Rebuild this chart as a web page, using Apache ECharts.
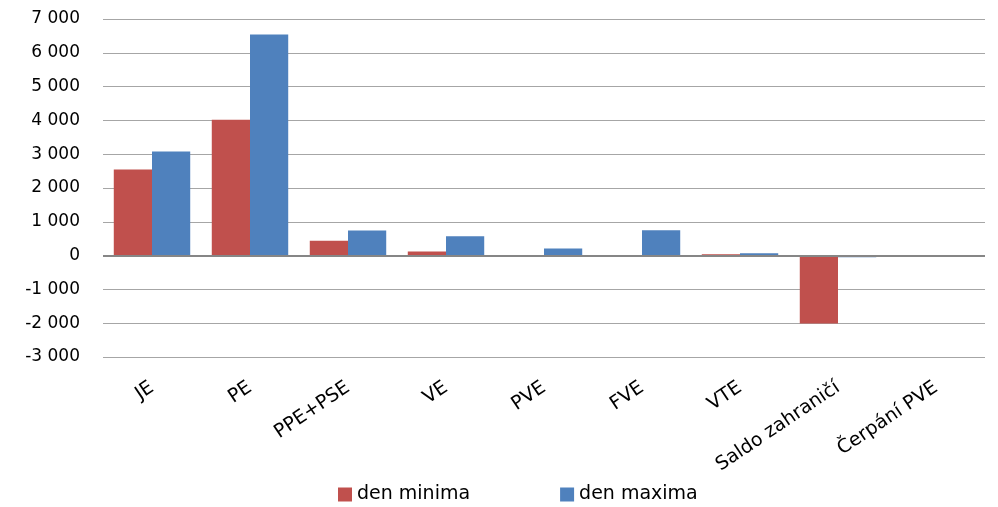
<!DOCTYPE html>
<html><head><meta charset="utf-8">
<script src="https://cdn.jsdelivr.net/npm/echarts@6/dist/echarts.min.js"></script>
<style>html,body{margin:0;padding:0;background:#fff}#c{width:998px;height:507px}</style>
</head><body><div id="c"></div>
<script>
const categories = ['JE','PE','PPE+PSE','VE','PVE','FVE','VTE','Saldo zahraničí','Čerpání PVE'];
const denMinima = [2550, 4020, 440, 120, 0, 0, 40, -2010, -30];
const denMaxima = [3080, 6540, 740, 570, 210, 750, 70, -50, 0];
const yTicks = {min: -3000, max: 7000, interval: 1000};

const fmt = v => { const s = Math.abs(v).toString().replace(/\B(?=(\d{3})+(?!\d))/g, ' '); return (v < 0 ? '-' : '') + s; };
const font = '"DejaVu Sans", "Open Sans", sans-serif';
const chart = echarts.init(document.getElementById('c'));
chart.setOption({
  animation: false,
  textStyle: {fontFamily: font},
  grid: {left: 103, right: 13, top: 19, bottom: 150, containLabel: false},
  legend: {
    top: 480, left: 333, itemWidth: 14, itemHeight: 14, itemGap: 90,
    icon: 'rect',
    textStyle: {fontSize: 19, color: '#000', fontFamily: font},
    data: ['den minima', 'den maxima']
  },
  xAxis: {
    type: 'category', data: categories,
    axisLine: {show: false, onZero: false}, axisTick: {show: false},
    axisLabel: {rotate: 34, interval: 0, fontSize: 19, color: '#000', margin: 29, fontFamily: font}
  },
  yAxis: {
    type: 'value', min: yTicks.min, max: yTicks.max, interval: yTicks.interval,
    axisLine: {show: false}, axisTick: {show: false},
    splitLine: {lineStyle: {color: '#a6a6a6', width: 1}},
    axisLabel: {formatter: fmt, fontSize: 17, color: '#000', margin: 23, fontFamily: font}
  },
  series: [
    {name: 'den minima', type: 'bar', data: denMinima, barGap: '0%', barCategoryGap: '22%',
     itemStyle: {color: '#C0504D'},
     markLine: {silent: true, symbol: 'none', label: {show: false},
       lineStyle: {color: '#868686', width: 2, type: 'solid'}, data: [{yAxis: 0}]}},
    {name: 'den maxima', type: 'bar', data: denMaxima, itemStyle: {color: '#4F81BD'}}
  ]
});
</script></body></html>
